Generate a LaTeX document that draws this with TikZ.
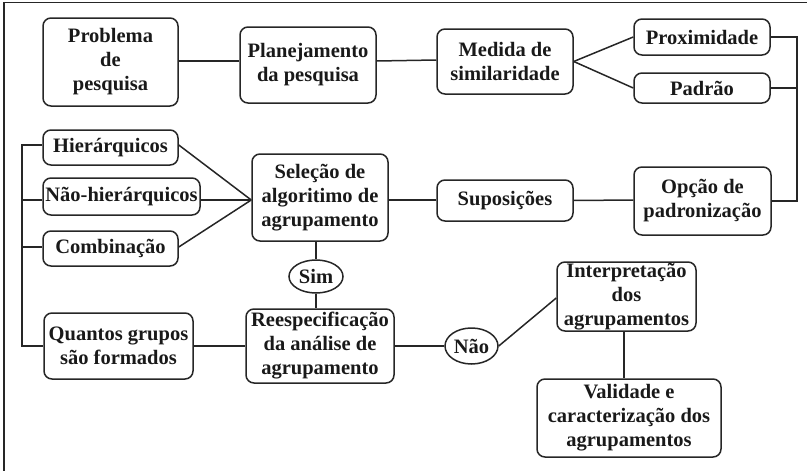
\documentclass[tikz,border=0pt]{standalone}
\usepackage{fontspec}
\setmainfont{Liberation Serif}
\usetikzlibrary{shapes.geometric}
\begin{document}
\begin{tikzpicture}[x=1pt,y=-1pt,
  box/.style={draw=black!85,line width=1.5pt,rounded corners=8pt,inner sep=0pt,align=center,
    font=\fontsize{20.5}{24}\selectfont\bfseries,text=black!90},
  oval/.style={draw=black!85,line width=1.5pt,ellipse,inner sep=0pt,
    font=\fontsize{20.5}{24}\selectfont\bfseries,text=black!90},
  conn/.style={line width=1.5pt,draw=black!85}]
\useasboundingbox (0,0) rectangle (807,471);
\draw[conn] (4,471) -- (4,2.5) -- (807,2.5);
% nodes
\node[box,minimum width=135pt,minimum height=88pt] (prob) at (110.5,62) {Problema\\de\\pesquisa};
\node[box,minimum width=136pt,minimum height=76pt] (plan) at (308,65) {Planejamento\\da pesquisa};
\node[box,minimum width=136pt,minimum height=65pt] (med) at (505,61.5) {Medida de\\similaridade};
\node[box,minimum width=136pt,minimum height=36pt] (prox) at (702,37) {Proximidade};
\node[box,minimum width=136pt,minimum height=30pt] (pad) at (702,88) {Padrão};
\node[box,minimum width=137pt,minimum height=68pt] (opc) at (702.5,201) {Opção de\\padronização};
\node[box,minimum width=136pt,minimum height=41pt] (sup) at (505,200.5) {Suposições};
\node[box,minimum width=136pt,minimum height=87pt] (sel) at (320,197.5) {Seleção de\\algoritimo de\\agrupamento};
\node[box,minimum width=135pt,minimum height=35pt] (hie) at (110.5,147.5) {Hierárquicos};
\node[box,minimum width=157pt,minimum height=37pt] (nhie) at (121.5,196.5) {Não-hierárquicos};
\node[box,minimum width=135pt,minimum height=35pt] (comb) at (110.5,248.5) {Combinação};
\node[oval,minimum width=54pt,minimum height=33pt] (sim) at (316,276.5) {Sim};
\node[box,minimum width=148pt,minimum height=74pt] (rees) at (320,346) {Reespecificação\\da análise de\\agrupamento};
\node[box,minimum width=149pt,minimum height=66pt] (quan) at (118.5,346) {Quantos grupos\\são formados};
\node[oval,minimum width=53pt,minimum height=36pt] (nao) at (471.5,346) {Não};
\node[box,minimum width=139pt,minimum height=69pt] (int) at (626.5,296.5) {Interpretação\\dos\\agrupamentos};
\node[box,minimum width=184pt,minimum height=78pt] (val) at (629,418) {Validade e\\caracterização dos\\agrupamentos};
% connectors
\draw[conn] (prob.east |- 0,61) -- (plan.west |- 0,61);
\draw[conn] (plan.east |- 0,61) -- (med.west |- 0,60);
\draw[conn] (med.east) -- (prox.west);
\draw[conn] (med.east) -- (pad.west);
\coordinate (rb) at (797,37);
\draw[conn] (prox.east) -- (rb) -- (rb |- opc.east) -- (opc.east);
\draw[conn] (pad.east) -- (rb |- pad.east);
\draw[conn] (opc.west |- 0,200) -- (sup.west -| sup.east);
\draw[conn] (sup.west |- 0,200) -- (sel.east |- 0,200);
\coordinate (sw) at (sel.west |- 0,200);
\draw[conn] (hie.east |- 0,145) -- (sw);
\draw[conn] (nhie.east |- 0,200) -- (sw);
\draw[conn] (comb.east |- 0,247) -- (sw);
\coordinate (lb) at (22,145);
\draw[conn] (hie.west |- 0,145) -- (lb) -- (lb |- quan.west) -- (quan.west);
\draw[conn] (lb |- 0,200) -- (nhie.west |- 0,200);
\draw[conn] (lb |- 0,247) -- (comb.west |- 0,247);
\draw[conn] (sel.south -| sim.north) -- (sim.north);
\draw[conn] (sim.south) -- (rees.north -| sim.south);
\draw[conn] (quan.east) -- (rees.west);
\draw[conn] (rees.east) -- (nao.west);
\draw[conn] (nao.east) -- (int.west |- 0,298);
\draw[conn] (int.south -| 624,0) -- (val.north -| 624,0);
\end{tikzpicture}
\end{document}
